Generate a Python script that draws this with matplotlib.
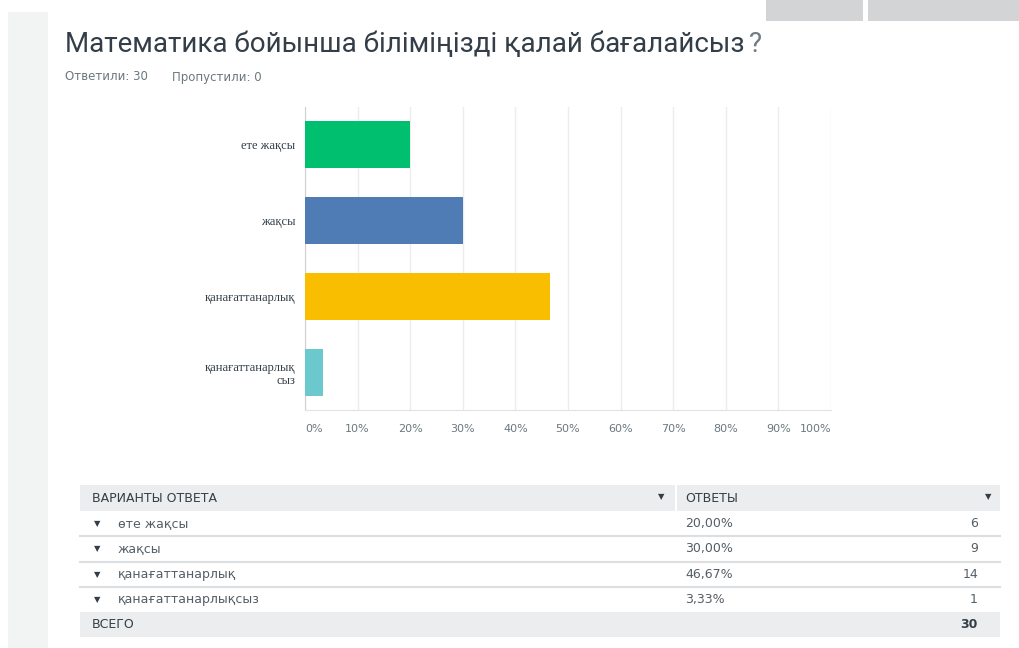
import matplotlib
matplotlib.use("Agg")
import matplotlib.pyplot as plt
import matplotlib.transforms as mtransforms
from matplotlib.patches import Rectangle

# survey data
title = "Математика бойынша біліміңізді қалай бағалайсыз"
answered = 30
skipped = 0
chart_labels = ["ете жақсы", "жақсы", "қанағаттанарлық", "қанағаттанарлық\nсыз"]
table_labels = ["өте жақсы", "жақсы", "қанағаттанарлық", "қанағаттанарлықсыз"]
percents = [20.00, 30.00, 46.67, 3.33]
counts = [6, 9, 14, 1]
total = 30
bar_colors = ["#00bf6f", "#507cb6", "#f9be00", "#6bc8cd"]
xticks = list(range(0, 101, 10))

W, H = 1019, 648
fig = plt.figure(figsize=(W / 100, H / 100), dpi=100)
fig.patch.set_facecolor("white")

# overlay axes in pixel units for page decoration and the table
bg = fig.add_axes([0, 0, 1, 1], zorder=0)
bg.set_xlim(0, W)
bg.set_ylim(H, 0)
bg.axis("off")

bg.add_patch(Rectangle((8, 12), 40, H - 12, color="#f2f3f3", lw=0))
bg.add_patch(Rectangle((766, 0), 97, 21, color="#d3d4d5", lw=0))
bg.add_patch(Rectangle((868, 0), 151, 21, color="#d3d4d5", lw=0))

# title with lighter question mark
t = bg.text(65, 52, title, fontsize=20, family="Roboto",
            color="#333e48", va="baseline")
fig.canvas.draw()
bb = t.get_window_extent()
tr = mtransforms.blended_transform_factory(mtransforms.IdentityTransform(), bg.transData)
bg.text(bb.x1 + 5, 52, "?", fontsize=20, family="Roboto",
        color="#6f7a82", va="baseline", transform=tr)

sub_font = dict(fontsize=8.5, family="DejaVu Sans", color="#6b787f", va="center")
bg.text(65, 77, f"Ответили: {answered}", **sub_font)
bg.text(172, 77, f"Пропустили: {skipped}", **sub_font)

# bar chart
ax = fig.add_axes([305 / W, 1 - 410 / H, 526 / W, 303 / H], zorder=2)
ax.patch.set_alpha(0)
ypos = list(range(len(percents)))
ax.barh(ypos, percents, height=0.62, color=bar_colors, zorder=3)
ax.set_xlim(0, 100)
ax.set_ylim(3.5, -0.5)
ax.set_xticks(xticks)
ax.set_xticklabels([f"{v}%" for v in xticks], fontsize=8, color="#6b787f", family="DejaVu Sans")
tl = ax.get_xticklabels()
tl[0].set_ha("left")
tl[-1].set_ha("right")
ax.set_yticks(ypos)
ax.set_yticklabels(chart_labels, fontsize=9, family="Liberation Serif", color="#333e48",
                   linespacing=1.15)
ax.tick_params(axis="both", length=0)
ax.tick_params(axis="x", pad=10)
ax.tick_params(axis="y", pad=7)
ax.grid(axis="x", color="#ececec", lw=1, zorder=0)
for s in ["top", "right"]:
    ax.spines[s].set_visible(False)
ax.spines["left"].set_color("#d0d0d0")
ax.spines["bottom"].set_color("#e2e2e2")

# table
tab_font = dict(fontsize=9, family="DejaVu Sans", va="center")
tx0, tx1, tdiv = 80, 1000, 676
hdr_top, row_h = 485, 25.3
bg.add_patch(Rectangle((tx0, hdr_top), tx1 - tx0, 26, color="#ebedee", lw=0))
bg.plot([tdiv, tdiv], [hdr_top, hdr_top + 26], color="white", lw=1.5)
bg.text(92, hdr_top + 13, "ВАРИАНТЫ ОТВЕТА", color="#333e48", **tab_font)
bg.text(685, hdr_top + 13, "ОТВЕТЫ", color="#333e48", **tab_font)
for ax_x in (661, 988):
    bg.text(ax_x, hdr_top + 12, "▼", fontsize=6, color="#333e48", va="center", ha="center")

top = hdr_top + 26
for i, (lab, p, c) in enumerate(zip(table_labels, percents, counts)):
    yc = top + i * row_h + row_h / 2
    if i > 0:
        bg.plot([tx0, tx1], [top + i * row_h, top + i * row_h], color="#dcdfe1", lw=1.5)
    bg.text(97, yc, "▼", fontsize=6, color="#333e48", va="center", ha="center")
    bg.text(118, yc, lab, color="#545e66", **tab_font)
    bg.text(685, yc, f"{p:.2f}%".replace(".", ","), color="#545e66", **tab_font)
    bg.text(978, yc, str(c), color="#545e66", ha="right", **tab_font)

tot_top = top + len(counts) * row_h
bg.add_patch(Rectangle((tx0, tot_top), tx1 - tx0, 25, color="#ebedee", lw=0))
bg.text(92, tot_top + 12.5, "ВСЕГО", color="#333e48", **tab_font)
bg.text(978, tot_top + 12.5, str(total), color="#333e48", ha="right", weight="bold", **tab_font)

fig.savefig("out.png", dpi=100)
